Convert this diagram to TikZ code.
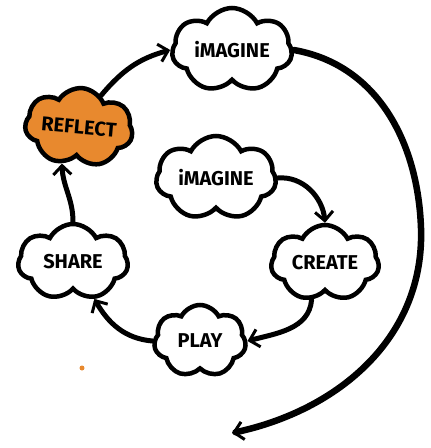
\documentclass[tikz,border=0pt]{standalone}
\usepackage{fontspec}
\setmainfont{Fira Sans}
\usetikzlibrary{shapes.symbols,arrows.meta}
\definecolor{reforange}{HTML}{E8892E}
\tikzset{
  bubble/.style={cloud, cloud puffs=7, cloud puff arc=125, cloud ignores aspect, draw=black, line width=4.5pt, fill=white, inner sep=0pt, font=\fontsize{20}{20}\selectfont\bfseries},
  tip/.style={-{Straight Barb[length=9pt,width=18pt,line width=3pt]}},
  conn/.style={line width=5pt, line cap=round, tip},
}
\begin{document}
\begin{tikzpicture}[x=1pt,y=-1pt]
\useasboundingbox (0,0) rectangle (431,448);
\node[bubble, minimum width=120pt, minimum height=84pt] (timg) at (232,50) {iMAGINE};
\node[bubble, fill=reforange, minimum width=108pt, minimum height=78pt, rotate=-5] (refl) at (79,127) {REFLECT};
\node[bubble, minimum width=120pt, minimum height=84pt] (iimg) at (216,178) {iMAGINE};
\node[bubble, minimum width=108pt, minimum height=76pt] (crea) at (325,263) {CREATE};
\node[bubble, minimum width=110pt, minimum height=76pt] (shar) at (73,262) {SHARE};
\node[bubble, minimum width=92pt, minimum height=72pt] (play) at (200,341) {PLAY};
\coordinate (bigend) at (232,433);
\fill[reforange] (82,368) circle (2.5pt);
\draw[conn] (refl.60) to[out=50,in=195] (timg.west);
\draw[line width=6.5pt, line cap=round, tip] (timg.east) to[out=-10,in=92] (421,228) to[out=-88,in=12] (bigend);
\draw[conn] (iimg.east) to[out=5,in=95] (crea.north);
\draw[conn] (crea.-110) to[out=-95,in=15] (play.east);
\draw[conn] (play.west) to[out=175,in=-60] (shar.-60);
\draw[conn] (shar.north) to[out=90,in=-88] (refl.-110);
\end{tikzpicture}
\end{document}
